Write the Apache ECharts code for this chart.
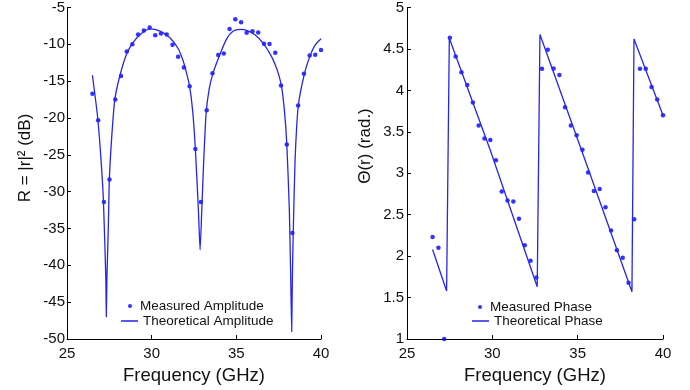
<!DOCTYPE html>
<html><head><meta charset="utf-8">
<script src="https://cdn.jsdelivr.net/npm/echarts@6/dist/echarts.min.js"></script>
<style>html,body{margin:0;padding:0;background:#fff}#c{width:690px;height:390px}</style>
</head><body><div id="c"></div>
<script>
// ---- data ----
const measFreq = [26.50,26.84,27.18,27.51,27.85,28.19,28.53,28.86,29.20,29.54,29.88,30.21,30.55,30.89,31.23,31.56,31.90,32.24,32.58,32.91,33.25,33.59,33.93,34.26,34.60,34.94,35.28,35.61,35.95,36.29,36.63,36.96,37.30,37.64,37.98,38.31,38.65,38.99,39.33,39.66,40.00];
const measAmp = [-16.7,-20.3,-31.4,-28.35,-17.5,-14.3,-10.96,-10.0,-8.66,-8.12,-7.71,-8.75,-8.52,-8.66,-10.06,-11.69,-13.13,-15.7,-24.2,-31.4,-18.96,-13.94,-11.46,-11.23,-7.93,-6.58,-6.99,-8.43,-8.21,-8.39,-9.92,-9.97,-11.14,-15.6,-23.6,-35.6,-18.3,-13.99,-11.5,-11.4,-10.78];
const measPhase = [2.23,2.10,1.00,4.635,4.41,4.22,4.064,3.855,3.575,3.42,3.40,3.157,2.78,2.67,2.66,2.45,2.13,1.943,1.743,4.26,4.49,4.265,4.185,3.795,3.575,3.46,3.285,3.008,2.787,2.81,2.59,2.31,2.07,1.98,1.68,2.446,4.26,4.26,4.04,3.89,3.70];

const theoFreqA = [26.50,26.81,27.01,27.15,27.29,27.32,27.36,27.44,27.50,27.64,27.83,28.13,28.52,28.92,29.41,29.90,30.49,31.08,31.57,31.85,32.05,32.24,32.42,32.58,32.76,32.86,32.96,33.05,33.21,33.40,33.64,34.04,34.43,34.82,35.22,35.61,36.10,36.60,37.09,37.40,37.66,37.84,37.98,38.13,38.21,38.27,38.31,38.36,38.47,38.66,39.02,39.35,39.64,40.00];
const theoAmp   = [-14.2,-19.9,-25.7,-31.2,-41.5,-47.0,-41.5,-34.8,-28.4,-22.6,-17.4,-14.2,-11.3,-9.7,-8.5,-7.9,-8.2,-9.1,-10.6,-12.2,-13.8,-15.7,-19.0,-24.2,-32.5,-37.9,-32.5,-27.1,-19.5,-16.0,-13.8,-11.3,-9.25,-8.2,-7.98,-8.1,-8.7,-9.9,-11.7,-13.4,-15.6,-19.0,-23.5,-32.5,-41.5,-49.0,-41.5,-35.7,-25.7,-18.3,-14.0,-11.6,-10.15,-9.25];

const theoFreqP = [26.50,27.32,27.48,29.86,32.63,32.79,35.50,38.18,38.30,40.00];
const theoPhase = [2.08,1.58,4.63,3.29,1.63,4.675,3.12,1.57,4.62,3.70];

const xTicks = {min:25, max:40, interval:5};
const ampTicks = {min:-50, max:-5, interval:5};
const phaseTicks = {min:1, max:5, interval:0.5};

// ---- chart ----
const zip = (a,b) => a.map((v,i)=>[v,b[i]]);
const FONT = 'Liberation Sans, Arial, sans-serif';
const BLUE = '#0000ff';
const LINEBLUE = '#2525f0';
function xAxisCfg(gi){
  return {type:'value', gridIndex:gi, min:xTicks.min, max:xTicks.max, interval:xTicks.interval,
    name:'Frequency (GHz)', nameLocation:'middle', nameGap:27,
    nameTextStyle:{fontFamily:FONT, fontSize:18.5, color:'#111'},
    axisLine:{lineStyle:{color:'#000', width:1}},
    axisTick:{inside:true, length:4, lineStyle:{color:'#000'}},
    axisLabel:{fontFamily:FONT, fontSize:15, color:'#111', margin:7},
    splitLine:{show:false}};
}
function yAxisCfg(gi, t, margin){
  return {type:'value', gridIndex:gi, min:t.min, max:t.max, interval:t.interval,
    axisLine:{show:true, lineStyle:{color:'#000', width:1}},
    axisTick:{show:true, inside:true, length:4, lineStyle:{color:'#000'}},
    axisLabel:{fontFamily:FONT, fontSize:15, color:'#111', margin:margin},
    splitLine:{show:false}};
}
const legText = {fontFamily:FONT, fontSize:13.5, color:'#111'};
const legTextDot = {fontFamily:FONT, fontSize:13.5, color:'#111', padding:[0,0,0,3]};
const chart = echarts.init(document.getElementById('c'), null, {renderer:'canvas'});
chart.setOption({
  animation:false,
  backgroundColor:'#fff',
  grid:[{left:67, top:7, width:254, height:332},{left:407, top:7, width:256, height:332}],
  xAxis:[xAxisCfg(0), xAxisCfg(1)],
  yAxis:[yAxisCfg(0, ampTicks, 2), yAxisCfg(1, phaseTicks, 3)],
  legend:[
    {data:['Measured Amplitude'], left:128, top:299, padding:0, itemWidth:4, itemHeight:4, icon:'circle', textStyle:legTextDot},
    {data:['Theoretical Amplitude'], left:121, top:314, padding:0, itemWidth:17, itemHeight:1.5, icon:'rect', textStyle:legText},
    {data:['Measured Phase'], left:478, top:300, padding:0, itemWidth:4, itemHeight:4, icon:'circle', textStyle:legTextDot},
    {data:['Theoretical Phase'], left:472, top:314, padding:0, itemWidth:17, itemHeight:1.5, icon:'rect', textStyle:legText}
  ],
  series:[
    {name:'Theoretical Amplitude', type:'line', xAxisIndex:0, yAxisIndex:0, data:zip(theoFreqA, theoAmp), showSymbol:false, symbol:'none', smooth:0.2, lineStyle:{color:LINEBLUE, width:1.3}, itemStyle:{color:LINEBLUE}},
    {name:'Measured Amplitude', type:'scatter', xAxisIndex:0, yAxisIndex:0, data:zip(measFreq, measAmp), symbolSize:4.5, itemStyle:{color:BLUE}},
    {name:'Theoretical Phase', type:'line', xAxisIndex:1, yAxisIndex:1, data:zip(theoFreqP, theoPhase), showSymbol:false, symbol:'none', lineStyle:{color:LINEBLUE, width:1.3}, itemStyle:{color:LINEBLUE}},
    {name:'Measured Phase', type:'scatter', xAxisIndex:1, yAxisIndex:1, data:zip(measFreq, measPhase), symbolSize:4.5, itemStyle:{color:BLUE}}
  ],
  graphic:[
    {type:'text', x:25, y:158, rotation:Math.PI/2, style:{text:'R = |r|² (dB)', font:'17px Liberation Sans, Arial, sans-serif', fill:'#111', textAlign:'center', textVerticalAlign:'middle'}},
    {type:'text', x:365, y:146, rotation:Math.PI/2, style:{text:'Θ(r) (rad.)', font:'17px Liberation Sans, Arial, sans-serif', fill:'#111', textAlign:'center', textVerticalAlign:'middle'}}
  ]
});
</script></body></html>
